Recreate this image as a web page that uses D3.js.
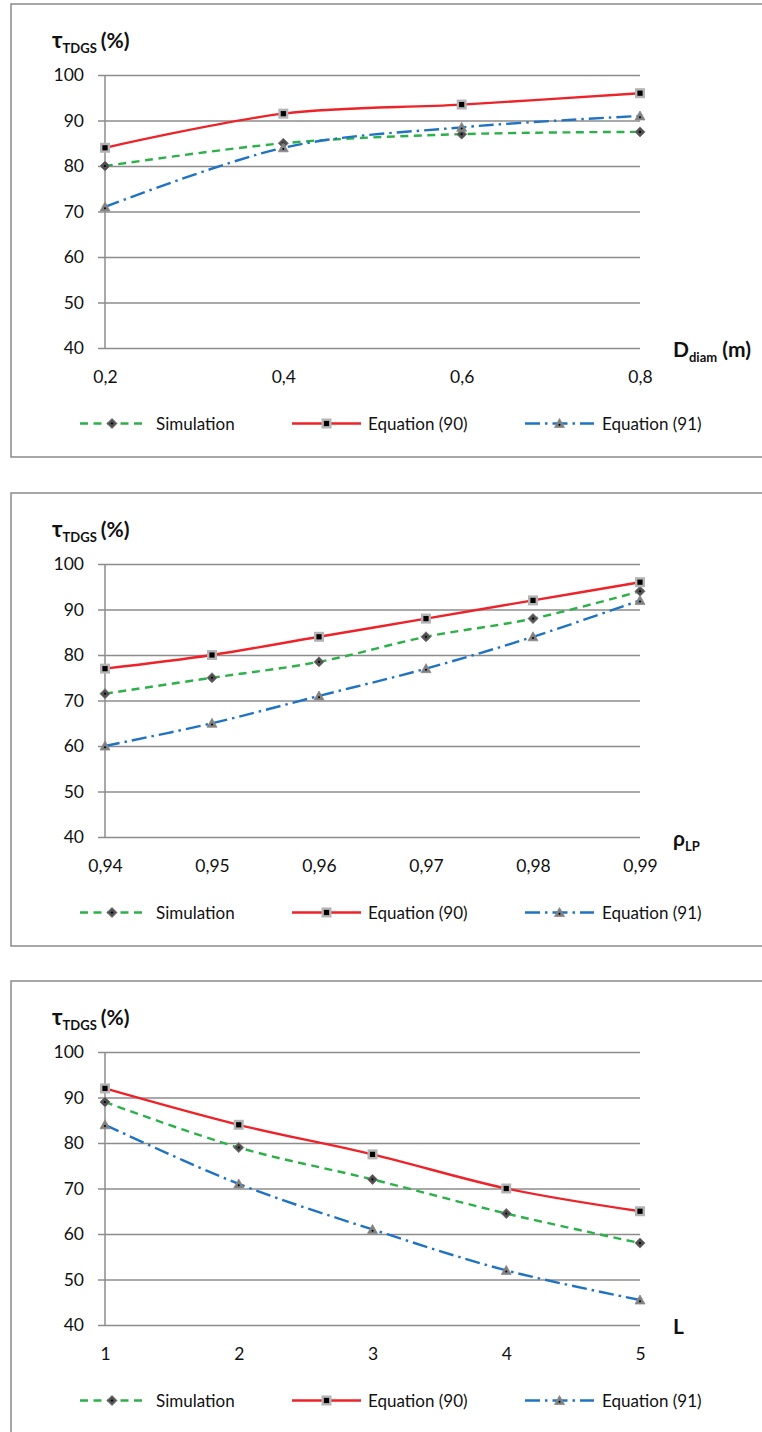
<!DOCTYPE html>
<html><head><meta charset="utf-8">
<script src="https://cdn.jsdelivr.net/npm/d3@7"></script>
<style>body{margin:0;background:#fff} svg{display:block}</style>
</head><body><svg id="c" width="762" height="1432"></svg>
<script>
const seriesNames = ["Simulation", "Equation (90)", "Equation (91)"];
const yTicks = [40, 50, 60, 70, 80, 90, 100];

const diamCats = ["0,2", "0,4", "0,6", "0,8"];
const diamSim  = [80, 85, 87, 87.5];
const diamEq90 = [84, 91.5, 93.5, 96];
const diamEq91 = [71, 84, 88.5, 91];

const rhoCats = ["0,94", "0,95", "0,96", "0,97", "0,98", "0,99"];
const rhoSim  = [71.5, 75, 78.5, 84, 88, 94];
const rhoEq90 = [77, 80, 84, 88, 92, 96];
const rhoEq91 = [60, 65, 71, 77, 84, 92];

const lCats = ["1", "2", "3", "4", "5"];
const lSim  = [89, 79, 72, 64.5, 58];
const lEq90 = [92, 84, 77.5, 70, 65];
const lEq91 = [84, 71, 61, 52, 45.5];

const panels = [
  {top: 4,   cats: diamCats, series: [diamSim, diamEq90, diamEq91], xt: [["D", false], ["diam", true], [" (m)", false]]},
  {top: 493, cats: rhoCats,  series: [rhoSim, rhoEq90, rhoEq91],   xt: [["ρ", false], ["LP", true]]},
  {top: 981, cats: lCats,    series: [lSim, lEq90, lEq91],         xt: [["L", false]]}
];

const styles = [
  {color: "#2cb04a", dash: "8,5.5", marker: "diamond"},
  {color: "#ee2229", dash: null, marker: "square"},
  {color: "#1f73c2", dash: "15,5,2.5,5", marker: "triangle"}
];

const FONT = "Lato, 'Open Sans', sans-serif";
const svg = d3.select("#c");
const gridCol = "#8c8c8c";

function drawMarker(g, type, x, y) {
  if (type === "diamond") {
    const s = 5;
    g.append("path").attr("d", `M${x},${y - s}L${x + s},${y}L${x},${y + s}L${x - s},${y}Z`)
      .attr("fill", "#505050").attr("stroke", "#7a7a7a").attr("stroke-width", 1);
    g.append("circle").attr("cx", x).attr("cy", y).attr("r", 1.1).attr("fill", "#000");
  } else if (type === "square") {
    g.append("rect").attr("x", x - 3.8).attr("y", y - 3.8).attr("width", 7.6).attr("height", 7.6)
      .attr("fill", "#000").attr("stroke", "#b4b4b4").attr("stroke-width", 2.4);
  } else {
    const s = 5;
    g.append("path").attr("d", `M${x},${y - s}L${x + s},${y + s * 0.8}L${x - s},${y + s * 0.8}Z`)
      .attr("fill", "#808080").attr("stroke", "#8a8a8a").attr("stroke-width", 0.8);
    g.append("circle").attr("cx", x).attr("cy", y + 1.2).attr("r", 1).attr("fill", "#000");
  }
}

panels.forEach(p => {
  const g = svg.append("g");
  const y0 = p.top + 71, y1 = p.top + 344;
  g.append("rect").attr("x", 11).attr("y", p.top).attr("width", 800).attr("height", 453)
    .attr("fill", "none").attr("stroke", "#8a8a8a").attr("stroke-width", 1.5);

  const x = d3.scalePoint().domain(p.cats).range([105, 640]);
  const y = d3.scaleLinear().domain([40, 100]).range([y1, y0]);

  const ya = d3.axisLeft(y).tickValues(yTicks).tickSize(0).tickPadding(14).tickFormat(d3.format("d"));
  const yg = g.append("g").attr("transform", "translate(98,0)").call(ya);
  yg.select(".domain").remove();
  yg.selectAll(".tick line").attr("x1", 0).attr("x2", 542).attr("stroke", gridCol).attr("stroke-width", 1.5);
  yg.selectAll(".tick text").attr("x", -14).attr("font-family", FONT).attr("font-size", 17.5)
    .attr("fill", "#111").attr("dy", "0.34em").attr("text-anchor", "end");

  g.append("line").attr("x1", 105).attr("x2", 105).attr("y1", y0).attr("y2", y1)
    .attr("stroke", gridCol).attr("stroke-width", 1.5);

  const xa = d3.axisBottom(x).tickSize(0).tickPadding(0);
  const xg = g.append("g").attr("transform", `translate(0,${y1})`).call(xa);
  xg.select(".domain").remove();
  xg.selectAll(".tick text").attr("y", 35).attr("dy", 0).attr("font-family", FONT)
    .attr("font-size", 17.5).attr("fill", "#111");

  const yt = g.append("text").attr("x", 52).attr("y", p.top + 44).attr("font-family", FONT)
    .attr("font-weight", "bold").attr("fill", "#111");
  yt.append("tspan").attr("font-size", 22).text("τ");
  yt.append("tspan").attr("font-size", 13).attr("dy", 5).text("TDGS");
  yt.append("tspan").attr("font-size", 21).attr("dy", -5).attr("dx", 4).text("(%)");

  const xt = g.append("text").attr("x", 673).attr("y", y1 + 9).attr("font-family", FONT)
    .attr("font-weight", "bold").attr("fill", "#111");
  let sub = false;
  p.xt.forEach(([t, s]) => {
    const ts = xt.append("tspan").attr("font-size", s ? 13 : 21).text(t);
    if (s && !sub) { ts.attr("dy", 5); sub = true; }
    else if (!s && sub) { ts.attr("dy", -5); sub = false; }
  });

  const line = d3.line().x((d, i) => x(p.cats[i])).y(d => y(d)).curve(d3.curveCardinal.tension(0));
  p.series.forEach((vals, si) => {
    const st = styles[si];
    g.append("path").datum(vals).attr("d", line).attr("fill", "none")
      .attr("stroke", st.color).attr("stroke-width", 2.4)
      .attr("stroke-dasharray", st.dash);
  });
  p.series.forEach((vals, si) => {
    const mg = g.append("g");
    vals.forEach((v, i) => drawMarker(mg, styles[si].marker, x(p.cats[i]), y(v)));
  });

  const ly = y1 + 75.5;
  const legendPos = [[80, 144, 156], [292, 361, 368], [525, 594, 602]];
  seriesNames.forEach((name, si) => {
    const [a, b, tx] = legendPos[si];
    const st = styles[si];
    g.append("line").attr("x1", a).attr("x2", b).attr("y1", ly).attr("y2", ly)
      .attr("stroke", st.color).attr("stroke-width", 2.4).attr("stroke-dasharray", st.dash);
    drawMarker(g, st.marker, (a + b) / 2, ly);
    g.append("text").attr("x", tx).attr("y", ly + 6).attr("font-family", FONT).attr("font-size", 17)
      .attr("fill", "#111").text(name);
  });
});
</script></body></html>
